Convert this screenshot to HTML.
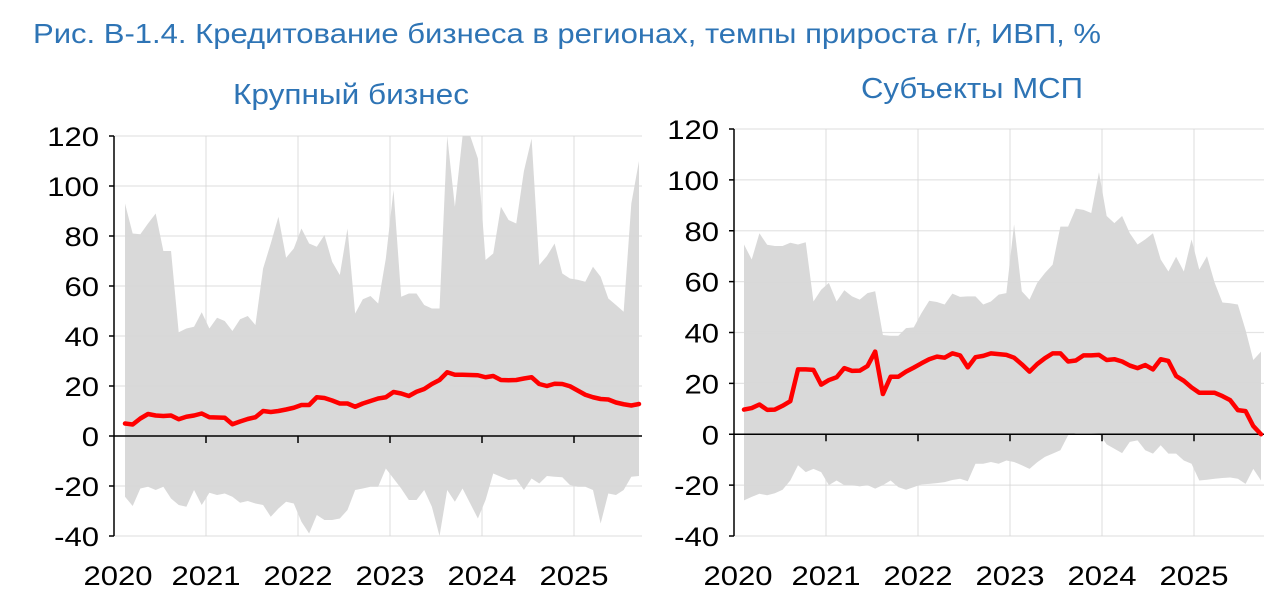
<!DOCTYPE html>
<html><head><meta charset="utf-8"><style>
html,body{margin:0;padding:0;background:#fff;}
svg{display:block;font-family:"Liberation Sans",Arial,sans-serif;}
</style></head><body>
<svg id="svg" width="1280" height="598" viewBox="0 0 1280 598">
<text x="33" y="43" font-size="28" fill="#2e74b5" textLength="1068" lengthAdjust="spacingAndGlyphs">Рис. В-1.4. Кредитование бизнеса в регионах, темпы прироста г/г, ИВП, %</text>
<text x="233" y="104" font-size="29" fill="#2e74b5" textLength="236" lengthAdjust="spacingAndGlyphs">Крупный бизнес</text>
<text x="861" y="98" font-size="29" fill="#2e74b5" textLength="222" lengthAdjust="spacingAndGlyphs">Субъекты МСП</text>
<g id="left"></g>
<g id="right"></g>
</svg>
<script>
const yTicks=[120,100,80,60,40,20,0,-20,-40];
const yearLabels=["2020","2021","2022","2023","2024","2025"];
const largeMedian=[5,4.6,7,8.8,8.2,8,8.2,6.7,7.7,8.2,9,7.5,7.4,7.3,4.7,5.8,6.8,7.5,10,9.6,10,10.6,11.3,12.4,12.4,15.5,15.2,14.2,13,13,11.7,13,14,15,15.5,17.6,17,16,17.7,18.8,20.8,22.4,25.5,24.5,24.5,24.4,24.3,23.5,24,22.4,22.3,22.4,23,23.5,20.8,20,20.9,20.8,19.9,18.2,16.5,15.5,14.8,14.6,13.4,12.7,12.2,12.8];
const largeUpper=[93,81,80.7,85,89,74,74,41.5,43,43.7,49.5,43,47.3,46,42,46.7,48,44.4,67,77,87.7,71.3,75,83,77,75.7,80.4,69.7,64.4,83,49,54.7,56,53,71,98.4,55.7,57,57,52.4,51,51,120,91.7,120,120,111,70.4,73,91.7,86.4,85,106,119,68.4,72,77,65,63,62.5,61.7,67.7,63.7,55,52.4,49.7,93,110];
const largeLower=[-24.3,-28,-21,-20.3,-21.6,-20.3,-25,-27.6,-28.3,-21.6,-27.6,-22.7,-23.6,-23,-24.3,-26.7,-26,-27,-27.6,-32.3,-29,-26.3,-27,-34.3,-39,-31.6,-33.6,-33.6,-33,-29.6,-21.6,-21,-20.3,-20.3,-13,-17,-21,-25.6,-25.6,-21.6,-28.3,-40,-21.6,-26.3,-21,-27,-33,-25.6,-15,-16.3,-17.6,-17.3,-21.6,-17,-19,-16,-16.3,-16.5,-19.6,-20.3,-20.3,-21.6,-35,-23,-23.6,-21.6,-16.3,-16];
const smeMedian=[9.7,10.3,11.7,9.6,9.7,11.2,13,25.5,25.5,25.3,19.5,21.3,22.4,26,24.9,25,26.8,32.5,15.8,22.6,22.6,24.6,26.2,27.9,29.5,30.5,30.1,31.8,31,26.3,30.3,30.8,31.8,31.5,31.2,30.1,27.5,24.6,27.6,29.9,31.8,31.8,28.6,29,31,31,31.2,29.2,29.5,28.6,27,26,27.2,25.5,29.5,28.8,22.9,21,18.4,16.3,16.3,16.3,15,13.4,9.5,9.1,3.2,0];
const smeUpper=[74.6,68.7,79,74.5,74,74,75.3,74.6,75.5,52.2,56.8,59.5,52.2,56.6,54.2,52.9,55.5,56.2,39,38.7,38.7,41.7,42,47.6,52.5,52,51,55.3,54,54.2,54.2,51,52.2,54.9,55.5,82.5,56.2,52.9,59.5,63.4,66.7,81.6,81.6,88.7,88.2,87,103,85.8,83,85.8,79,74.6,76.6,79,68.7,64,69.8,64,76.6,64.7,70,59.5,51.8,51.5,51,41,29.2,32.5];
const smeLower=[-26,-24.6,-23.4,-24,-23.2,-21.8,-18.2,-12.2,-14.9,-13.6,-14.9,-20,-18.2,-20,-20,-20.5,-20,-21.4,-20,-18.2,-20.8,-21.8,-20.8,-19.7,-19.5,-19.2,-18.8,-18,-17.5,-18.5,-11.6,-11.6,-10.9,-11.6,-10.3,-10.9,-12.2,-13.6,-11,-8.9,-7.6,-6.3,-0.4,0.5,0.5,0.5,0.3,-4,-5.7,-7.4,-3,-2.4,-6.3,-7.6,-4.3,-7.6,-7.6,-10.3,-11.6,-18.2,-17.9,-17.5,-17.2,-17,-17.5,-19.5,-13.6,-18.2];

const NS="http://www.w3.org/2000/svg";
function mk(parent,tag,attrs){const e=document.createElementNS(NS,tag);for(const k in attrs)e.setAttribute(k,attrs[k]);parent.appendChild(e);return e;}

function drawChart(g,cfg,median,upper,lower,prefix){
  const y=v=>cfg.y0+(cfg.ymax-v)*(cfg.y1-cfg.y0)/(cfg.ymax-cfg.ymin);
  const yearX=k=>cfg.ax+k*cfg.yearW;
  const x=i=>cfg.dx0+i*(cfg.dx1-cfg.dx0)/(median.length-1);
  let d="M"+x(0)+","+y(upper[0]);
  for(let i=1;i<upper.length;i++)d+="L"+x(i)+","+y(upper[i]);
  for(let i=lower.length-1;i>=0;i--)d+="L"+x(i)+","+y(lower[i]);
  const band=mk(g,"path",{d:d+"Z",fill:"#d9d9d9"});
  
  
  yTicks.forEach(t=>{
    const l=mk(g,"line",{x1:cfg.ax,x2:cfg.right,y1:y(t),y2:y(t),stroke:"#d9d9d9","stroke-width":1.3,"stroke-opacity":0.7});
    
    
  });
  for(let k=1;k<yearLabels.length;k++){
    const l=mk(g,"line",{x1:yearX(k),x2:yearX(k),y1:cfg.y0,y2:cfg.y1,stroke:"#d9d9d9","stroke-width":1.3,"stroke-opacity":0.7});
    
    
  }
  const ya=mk(g,"line",{x1:cfg.ax,x2:cfg.ax,y1:cfg.y0,y2:cfg.y1,stroke:"#000","stroke-width":1.5});
  
  
  yTicks.forEach(t=>{
    mk(g,"line",{x1:cfg.ax-5,x2:cfg.ax,y1:y(t),y2:y(t),stroke:"#000","stroke-width":1.5});
    const tx=mk(g,"text",{transform:"translate("+(cfg.ax-15)+","+(y(t)+10)+") scale(1.15,1)","font-size":27,"text-anchor":"end",fill:"#000"});
    tx.textContent=t;
    
    
  });
  const xa=mk(g,"line",{x1:cfg.ax,x2:cfg.right,y1:y(0),y2:y(0),stroke:"#000","stroke-width":1.5});
  
  
  yearLabels.forEach((lab,k)=>{
    if(k>0)mk(g,"line",{x1:yearX(k),x2:yearX(k),y1:y(0),y2:y(0)+7,stroke:"#000","stroke-width":1.5});
    const tx=mk(g,"text",{transform:"translate("+(yearX(k)+(k==0?4:0))+","+cfg.labY+") scale(1.15,1)","font-size":27,"text-anchor":"middle",fill:"#000"});
    tx.textContent=lab;
    
    
  });
  let p="";
  median.forEach((v,i)=>{p+=(i?"L":"M")+x(i)+","+y(v);});
  const ln=mk(g,"path",{d:p,fill:"none",stroke:"#ff0000","stroke-width":4.5,"stroke-linejoin":"round","stroke-linecap":"round"});
  
  
}
drawChart(document.getElementById("left"),{ax:114,right:642,yearW:92,y0:136,y1:536,ymax:120,ymin:-40,dx0:125,dx1:639,labY:585},largeMedian,largeUpper,largeLower,"large");
drawChart(document.getElementById("right"),{ax:734,right:1264,yearW:92,y0:129,y1:536,ymax:120,ymin:-40,dx0:744,dx1:1261,labY:585},smeMedian,smeUpper,smeLower,"sme");
</script>
</body></html>
